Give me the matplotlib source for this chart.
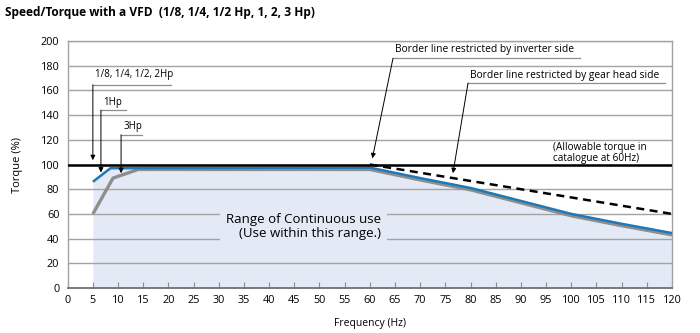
import matplotlib.pyplot as plt

plt.rcParams['font.family'] = ['Open Sans', 'DejaVu Sans']

# torque curves (% of rated) against drive frequency (Hz)
freq_1hp = [5, 8.5, 60, 70, 80, 90, 100, 110, 120]
torque_1hp = [86, 97, 97.5, 89, 81, 70.5, 60, 52, 44.5]

freq_3hp = [5, 9, 14, 60, 70, 80, 90, 100, 110, 120]
torque_3hp = [60, 89, 96, 96, 87.5, 79.5, 69, 58.5, 50.5, 43]

# gear head limit (dashed)
freq_gear = [60, 120]
torque_gear = [100, 60]

rated_torque = 100
xticks = list(range(0, 125, 5))
yticks = list(range(0, 201, 20))

FILL = '#e3e9f5'
GRID = '#a3a3a3'
BLUE = '#1f78b8'
GREY = '#8e8e8e'

fig = plt.figure(figsize=(7, 3.33), dpi=100)
ax = fig.add_axes([0.0967, 0.135, 0.8633, 0.742])

ax.fill_between(freq_1hp, torque_1hp, 0, color=FILL, lw=0, zorder=1)
ax.plot(freq_3hp, torque_3hp, color=GREY, lw=2.4, zorder=3, solid_capstyle='butt')
ax.plot(freq_1hp, torque_1hp, color=BLUE, lw=1.8, zorder=4, solid_capstyle='butt')
ax.plot(freq_gear, torque_gear, color='black', lw=1.8, ls=(0, (3.2, 2.2)), zorder=5)
ax.axhline(rated_torque, color='black', lw=1.8, zorder=5)

ax.set_xlim(0, 120)
ax.set_ylim(0, 200)
ax.set_xticks(xticks)
ax.set_yticks(yticks)
ax.tick_params(axis='x', direction='in', length=4, width=0.8, color=GREY,
               labelsize=7.8, pad=5)
ax.tick_params(axis='y', length=0, labelsize=7.8, pad=6)
ax.set_axisbelow('line')
ax.yaxis.grid(True, color=GRID, lw=1)
for side in ['left', 'top', 'right']:
    ax.spines[side].set_color(GRID)
    ax.spines[side].set_linewidth(1)
ax.spines['bottom'].set_color('#707070')
ax.spines['bottom'].set_linewidth(1.3)

ax.set_xlabel('Frequency (Hz)', fontsize=7.5, labelpad=9)
ax.set_ylabel('Torque (%)', fontsize=8, labelpad=13)

fig.text(0.007, 0.962, 'Speed/Torque with a VFD  (1/8, 1/4, 1/2 Hp, 1, 2, 3 Hp)',
         fontsize=8.6, fontweight='bold', va='center', ha='left')


def callout(label, text_xy, line_x1, line_y, tip, fs=7):
    # underlined label with an arrow running from the underline's start to the curve
    x0 = text_xy[0] - 0.4
    ax.text(text_xy[0], text_xy[1], label, fontsize=fs, ha='left', va='center', zorder=6)
    ax.plot([x0, line_x1], [line_y, line_y], color=GREY, lw=0.9, zorder=6)
    ax.annotate('', xy=tip, xytext=(x0, line_y),
                arrowprops=dict(arrowstyle='-|>', color='black', lw=0.7,
                                mutation_scale=7, shrinkA=0, shrinkB=0),
                zorder=6)


callout('1/8, 1/4, 1/2, 2Hp', (5.4, 172.5), 20.5, 164.5, (5, 103.5))
callout('1Hp', (7.0, 150.5), 11.5, 144, (6.6, 93.5))
callout('3Hp', (11.0, 130.5), 14.8, 124, (10.6, 93))
callout('Border line restricted by inverter side', (65.0, 193), 101.7, 186, (60.5, 105), fs=7.4)
callout('Border line restricted by gear head side', (79.9, 172), 118.6, 166, (76.5, 93), fs=7.4)

ax.text(96.4, 100.8, '(Allowable torque in\ncatalogue at 60Hz)', fontsize=7.2,
        ha='left', va='bottom', linespacing=0.95, zorder=6)

ax.text(46.8, 49.8, 'Range of Continuous use\n(Use within this range.)', fontsize=9.5,
        ha='center', va='center', multialignment='right', linespacing=1.1, zorder=6,
        bbox=dict(boxstyle='square,pad=0.45', facecolor=FILL, edgecolor='none'))

fig.savefig('out.png', dpi=100)
